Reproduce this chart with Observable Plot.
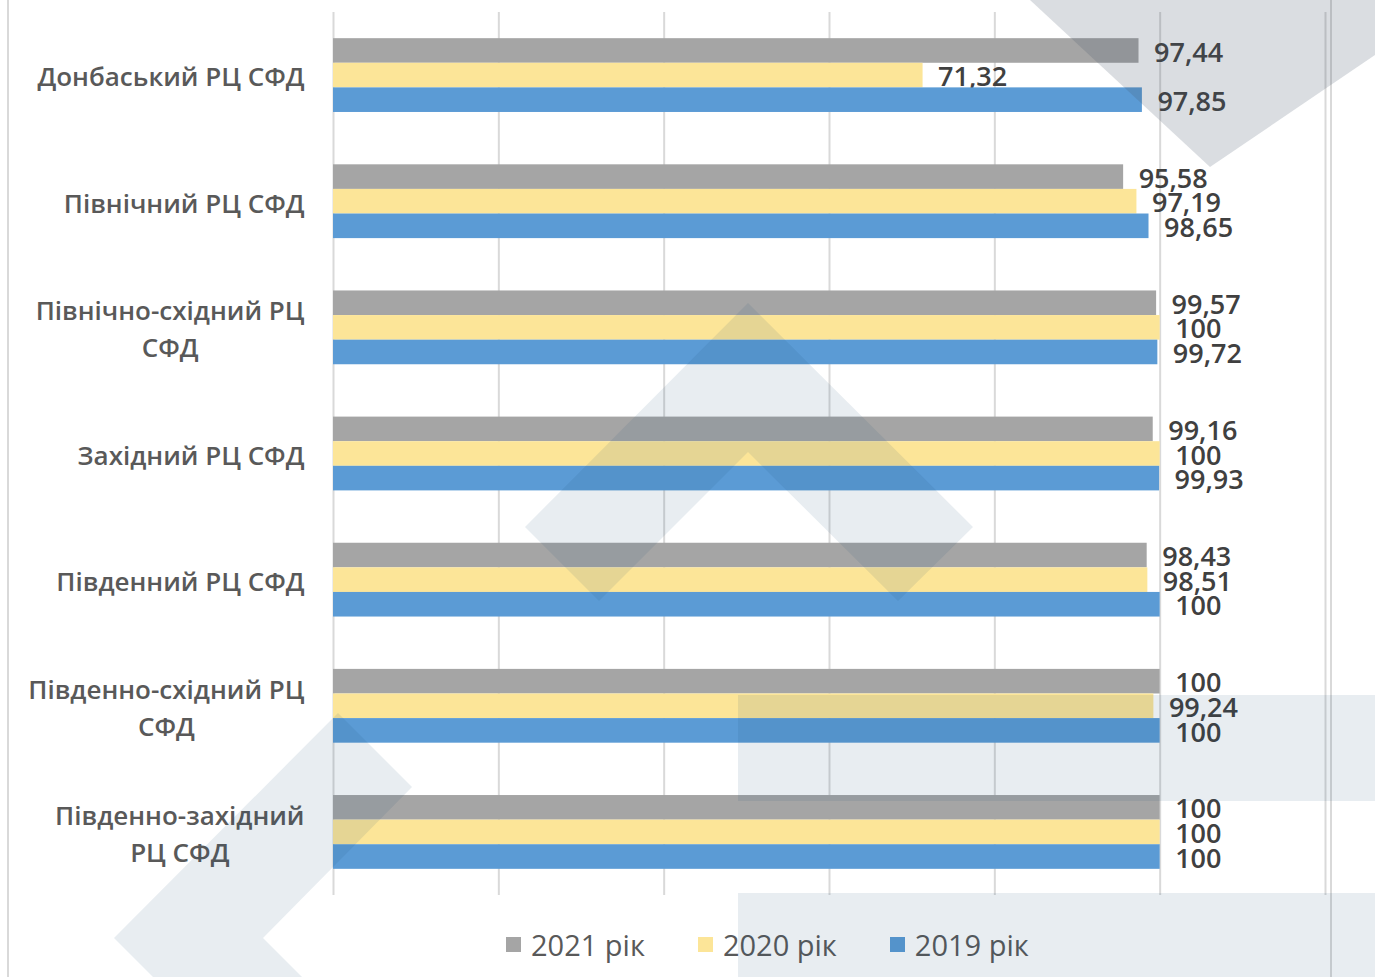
<!DOCTYPE html>
<html>
<head>
<meta charset="utf-8">
<script src="https://cdn.jsdelivr.net/npm/d3@7"></script>
<script src="https://cdn.jsdelivr.net/npm/@observablehq/plot@0.6"></script>
<style>
  html, body { margin: 0; padding: 0; background: #fff; overflow: hidden; }
  #wrap { position: relative; width: 1375px; height: 977px; overflow: hidden; font-family: "Open Sans", sans-serif; }
  #frame { position: absolute; left: 7px; top: -10px; width: 1325px; height: 1000px; border-left: 2px solid #d9d9d9; border-right: 2px solid #d9d9d9; box-sizing: border-box; }
  #chart { position: absolute; left: 0; top: 0; }
  #legend { position: absolute; left: 506px; top: 925px; display: flex; align-items: center; font-size: 29px; color: #595959; white-space: nowrap; }
  #legend .item { display: flex; align-items: center; margin-right: 53px; }
  #legend .sw { width: 15px; height: 15px; margin-right: 10px; }
  #deco { position: absolute; left: 0; top: 0; pointer-events: none; }
</style>
</head>
<body>
<div id="wrap">
  <div id="frame"></div>
  <div id="chart"></div>
  <div id="legend"></div>
  <!-- decorative background watermark shapes (not data) -->
  <svg id="deco" width="1375" height="977">
    <polygon points="1030,0 1210,167 1375,55 1375,0" fill="#44546A" fill-opacity="0.2"/>
    <polygon points="748,303 973,527 898,601 748,452 599,601 525,527" fill="#1F4E79" fill-opacity="0.1"/>
    <rect x="738" y="695" width="700" height="106" fill="#1F4E79" fill-opacity="0.1"/>
    <rect x="738" y="893" width="700" height="100" fill="#1F4E79" fill-opacity="0.1"/>
    <polygon points="338,713 412,787 263,938 302,977 153,977 114,938" fill="#1F4E79" fill-opacity="0.1"/>
  </svg>
</div>
<script>
// ---- data ----
const categories = [
  "Донбаський РЦ СФД",
  "Північний РЦ СФД",
  "Північно-східний РЦ СФД",
  "Західний РЦ СФД",
  "Південний РЦ СФД",
  "Південно-східний РЦ СФД",
  "Південно-західний РЦ СФД"
];
const categoryLabels = [
  "Донбаський РЦ СФД",
  "Північний РЦ СФД",
  "Північно-східний РЦ\nСФД",
  "Західний РЦ СФД",
  "Південний РЦ СФД",
  "Південно-східний РЦ\nСФД",
  "Південно-західний\nРЦ СФД"
];
const seriesNames = ["2021 рік", "2020 рік", "2019 рік"];
const values2021 = [97.44, 95.58, 99.57, 99.16, 98.43, 100, 100];
const values2020 = [71.32, 97.19, 100, 100, 98.51, 99.24, 100];
const values2019 = [97.85, 98.65, 99.72, 99.93, 100, 100, 100];
const seriesColors = ["#A5A5A5", "#FCE598", "#5B9BD5"];
const xTicks = [0, 20, 40, 60, 80, 100, 120];

// ---- layout ----
const W = 1375, H = 900;
const mTop = 12, mBottom = 5, mLeft = 333, mRight = 50;
const padInner = 0.415, padOuter = 0.2075;
const step = (H - mTop - mBottom) / (categories.length - padInner + 2 * padOuter);
const band = step * (1 - padInner);
const barH = band / 3;

const seriesValues = [values2021, values2020, values2019];
const rows = categories.flatMap((c, i) => seriesNames.map((s, j) => ({category: c, series: s, value: seriesValues[j][i]})));
const fmt = v => String(v).replace(".", ",");

const marks = [Plot.gridX({ticks: xTicks, stroke: "#d9d9d9", strokeOpacity: 1, strokeWidth: 2})];

seriesNames.forEach((s, j) => {
  const data = rows.filter(d => d.series === s);
  marks.push(Plot.barX(data, {
    x: "value", y: "category", fill: seriesColors[j],
    insetTop: j * barH, insetBottom: (2 - j) * barH
  }));
  marks.push(Plot.text(data, {
    x: "value", y: "category", text: d => fmt(d.value),
    dx: 15, dy: (j - 1) * barH + 2, textAnchor: "start",
    fill: "#404040", fontSize: 27, fontWeight: 600
  }));
});

// category labels: centred multi-line block, right edge near the axis
const ctx = document.createElement("canvas").getContext("2d");
const labelFont = 26;
ctx.font = `600 ${labelFont}px "Open Sans"`;
categories.forEach((c, i) => {
  const lab = categoryLabels[i];
  const w = Math.max(...lab.split("\n").map(t => ctx.measureText(t).width));
  marks.push(Plot.text([c], {
    y: d => d, frameAnchor: "left", text: () => lab,
    textAnchor: "middle", dx: -(29 + w / 2), dy: -1, lineHeight: 1.42,
    fill: "#595959", fontSize: labelFont, fontWeight: 600
  }));
});

const chart = Plot.plot({
  width: W, height: H,
  marginTop: mTop, marginBottom: mBottom, marginLeft: mLeft, marginRight: mRight,
  style: {fontFamily: "'Open Sans', sans-serif", background: "transparent", overflow: "visible"},
  x: {domain: [0, 120], axis: null},
  y: {domain: categories, paddingInner: padInner, paddingOuter: padOuter, round: false, axis: null},
  marks
});
document.getElementById("chart").appendChild(chart);

// legend
const legend = document.getElementById("legend");
seriesNames.forEach((s, j) => {
  const it = document.createElement("div");
  it.className = "item";
  it.innerHTML = `<span class="sw" style="background:${seriesColors[j]}"></span><span>${s}</span>`;
  legend.appendChild(it);
});
</script>
</body>
</html>
